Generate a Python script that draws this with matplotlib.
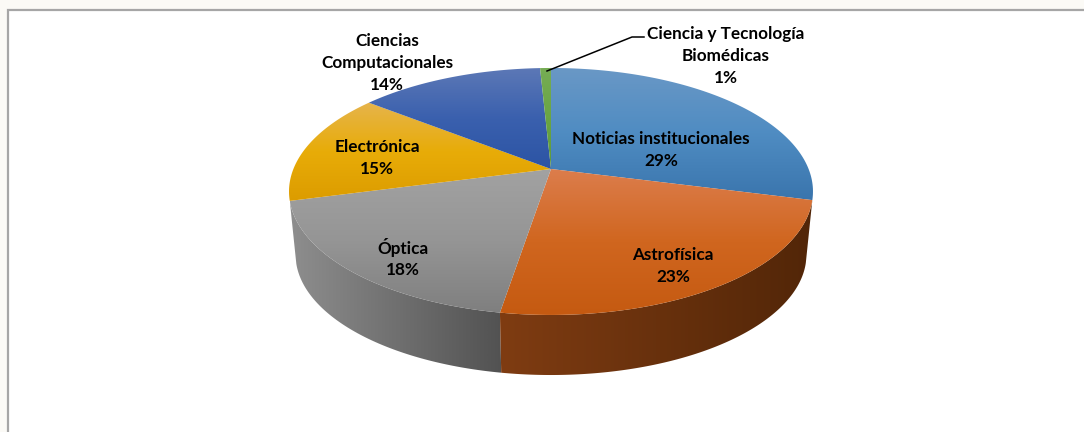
import numpy as np
import matplotlib
matplotlib.use('Agg')
import matplotlib.pyplot as plt
from matplotlib.patches import Polygon, Rectangle
from matplotlib.colors import LinearSegmentedColormap

names = ['Noticias institucionales', 'Astrofísica', 'Óptica', 'Electrónica',
         'Ciencias\nComputacionales', 'Ciencia y Tecnología\nBiomédicas']
shares = [29.0, 23.6, 18.3, 14.7, 13.6, 0.8]
pct_labels = ['29%', '23%', '18%', '15%', '14%', '1%']

top_light = ['#6a98c6', '#dc7d4c', '#a2a2a2', '#e6b44c', '#5c78b6', '#76ad55']
top_mid = ['#4f8cc2', '#d0661f', '#959595', '#e8ac08', '#3a60ae', '#6aa544']
top_dark = ['#3a75ad', '#c55a11', '#7f7f7f', '#dc9c00', '#2c54a4', '#5f9a3a']
side_left = {1: '#7f3c12', 2: '#8e8e8e'}
side_right = {1: '#522608', 2: '#525252'}

label_pos = [(661, 150), (673, 266), (403, 258), (377, 158), (387, 63), (726, 56)]

CX, CY, RX, RY, K = 551, 169, 257.6, 119.4, 0.182
CY2, SCALE = 232.7, 0.975


def project(t, cy=CY, s=1.0):
    # t is degrees clockwise from north, simple perspective on a flat circle
    t = np.radians(t)
    x, y = np.sin(t), np.cos(t)
    w = 1 + K * y
    return CX + s * RX * x / w, cy - s * RY * y / w


def gradient(ax, patch, colors, extent, horizontal=False):
    cmap = LinearSegmentedColormap.from_list('g', colors)
    g = np.linspace(0, 1, 256)
    g = g.reshape(1, -1) if horizontal else g.reshape(-1, 1)
    im = ax.imshow(g, cmap=cmap, extent=extent, aspect='auto', zorder=patch.get_zorder(),
                   vmin=0, vmax=1, interpolation='bilinear')
    ax.add_patch(patch)
    patch.set_visible(False)
    im.set_clip_path(Polygon(patch.get_xy(), transform=ax.transData))


fig = plt.figure(figsize=(10.84, 4.32), dpi=100, facecolor='#fbfaf6')
ax = fig.add_axes([0, 0, 1, 1])
ax.set_xlim(0, 1084)
ax.set_ylim(432, 0)
ax.axis('off')

ax.add_patch(Rectangle((8, 9.5), 1200, 600, fc='white', ec='#a6a6a6', lw=1.6, zorder=1))

edges = np.concatenate([[0], np.cumsum(shares)]) * 3.6

# side wall, only the slices that face the viewer
for i in [2, 1]:
    a = max(edges[i], 90)
    b = min(edges[i + 1], 270)
    t = np.linspace(a, b, 120)
    x1, y1 = project(t)
    x2, y2 = project(t, CY2, SCALE)
    pts = np.column_stack([np.r_[x1, x2[::-1]], np.r_[y1, y2[::-1]]])
    left, right = pts[:, 0].min(), pts[:, 0].max()
    p = Polygon(pts, zorder=2)
    gradient(ax, p, [side_left[i], side_right[i]], (left, right, 400, 150), horizontal=True)

# top face
for i in range(len(shares)):
    t = np.linspace(edges[i], edges[i + 1], 120)
    x, y = project(t)
    pts = np.column_stack([np.r_[CX, x], np.r_[CY, y]])
    p = Polygon(pts, zorder=3)
    top, bottom = pts[:, 1].min(), pts[:, 1].max()
    gradient(ax, p, [top_light[i], top_mid[i], top_dark[i]],
             (pts[:, 0].min(), pts[:, 0].max(), bottom, top))

for name, pct, pos in zip(names, pct_labels, label_pos):
    ax.text(pos[0], pos[1], name + '\n' + pct, ha='center', va='center', fontsize=12.3,
            fontweight='bold', color='black', linespacing=1.45, zorder=5, family='Lato')

# leader line for the small slice
ax.plot([547, 632, 644], [71, 37, 37], color='black', lw=1.1, zorder=4)

ax.set_xlim(0, 1084)
ax.set_ylim(432, 0)
fig.savefig('out.png', dpi=100, facecolor=fig.get_facecolor())
